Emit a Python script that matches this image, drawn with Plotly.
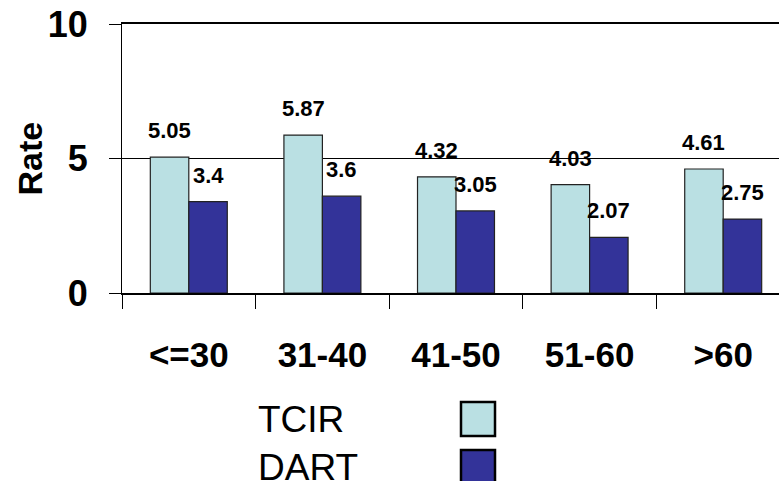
import plotly.graph_objects as go

categories = ["<=30", "31-40", "41-50", "51-60", ">60"]
series_names = ["TCIR", "DART"]
tcir_values = [5.05, 5.87, 4.32, 4.03, 4.61]
dart_values = [3.4, 3.6, 3.05, 2.07, 2.75]
y_ticks = [0, 5, 10]
y_title = "Rate"

colors = ["#BAE0E3", "#333399"]
BOLD = "Liberation Sans Narrow, Arial Narrow, Liberation Sans, Arial, sans-serif"
REG = "Liberation Sans, Arial, sans-serif"

# plot area spans x 122..790 (slightly past the window's right edge)
W, H = 790, 481
ML, MR, MT, MB = 122, 0, 24, H - 293
plot_w = W - ML - MR
plot_h = H - MT - MB

cat_px = plot_w / 5
bargap = 0.424
bar_px = cat_px * (1 - bargap) / 2

fig = go.Figure()
for name, vals, col in zip(series_names, [tcir_values, dart_values], colors):
    fig.add_trace(go.Bar(
        x=categories, y=vals, name=name,
        marker=dict(color=col, line=dict(color="#222222", width=1.2)),
        showlegend=False,
    ))

annotations = []
for i, vals in enumerate([tcir_values, dart_values]):
    shift = (-0.5 if i == 0 else 0.5) * bar_px
    for c, v in zip(categories, vals):
        annotations.append(dict(
            x=c, y=v, xref="x", yref="y", text=f"{v:g}", showarrow=False,
            xshift=shift, yshift=12, yanchor="bottom", xanchor="center",
            font=dict(family=BOLD, size=22, color="black", weight="bold"),
        ))

def px_to_paper_x(px):
    return (px - ML) / plot_w

def px_to_paper_y(py):
    return (H - MB - py) / plot_h

# y-axis title
annotations.append(dict(
    x=px_to_paper_x(29), y=0.5, xref="paper", yref="paper", text=y_title,
    showarrow=False, textangle=-90, xanchor="center", yanchor="middle",
    font=dict(family=REG, size=34, color="black", weight="bold"),
))

# manual legend: text on the left, swatch on the right
shapes = []
for k, (name, col) in enumerate(zip(series_names, colors)):
    top = 402 + 48 * k
    annotations.append(dict(
        x=px_to_paper_x(256), y=px_to_paper_y(top + 17), xref="paper", yref="paper",
        text=name, showarrow=False, xanchor="left", yanchor="middle",
        font=dict(family=REG, size=37, color="black"),
    ))
    shapes.append(dict(
        type="rect", xref="paper", yref="paper",
        x0=px_to_paper_x(461), x1=px_to_paper_x(495),
        y0=px_to_paper_y(top), y1=px_to_paper_y(top + 34),
        fillcolor=col, line=dict(color="black", width=2.5),
    ))

fig.update_layout(
    width=W, height=H,
    margin=dict(l=ML, r=MR, t=MT, b=MB, autoexpand=False),
    plot_bgcolor="white", paper_bgcolor="white",
    barmode="group", bargap=bargap, bargroupgap=0,
    annotations=annotations, shapes=shapes,
    showlegend=False,
)
fig.update_xaxes(
    type="category", range=[-0.5, 4.5],
    showline=True, linecolor="black", linewidth=1.6, mirror=True,
    ticks="outside", tickson="boundaries", ticklen=14, tickcolor="black", tickwidth=1.2,
    ticklabelstandoff=30,
    tickfont=dict(family=BOLD, size=35, color="black", weight="bold"),
    showgrid=False, automargin=False,
)
fig.update_yaxes(
    range=[0, 10], tickvals=y_ticks, ticktext=[str(t) for t in y_ticks],
    showline=True, linecolor="black", linewidth=1.2,
    ticks="outside", ticklen=12, tickcolor="black", tickwidth=1.2,
    ticklabelstandoff=14, ticklabeloverflow="allow",
    tickfont=dict(family=BOLD, size=36, color="black", weight="bold"),
    showgrid=True, gridcolor="black", gridwidth=1.2,
    zeroline=False, automargin=False,
)

fig.write_html("out.html", config={"displayModeBar": False},
               post_script="document.body.style.margin='0';")
